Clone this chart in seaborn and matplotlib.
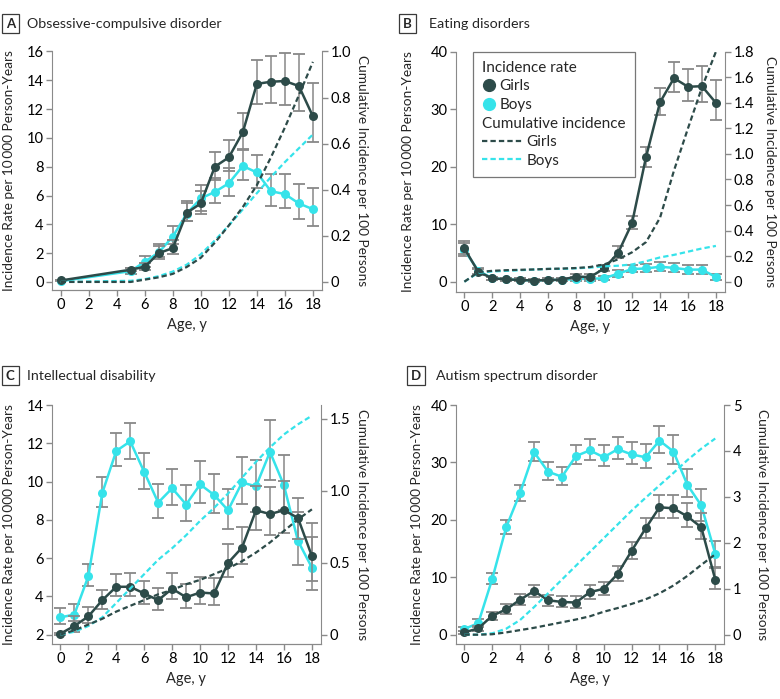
import matplotlib
matplotlib.use("Agg")
import matplotlib.pyplot as plt
from matplotlib.lines import Line2D
import seaborn as sns
import numpy as np

# ---- A: obsessive-compulsive disorder ----
ocd_ages = [0, 5, 6, 7, 8, 9, 10, 11, 12, 13, 14, 15, 16, 17, 18]
ocd_girls = [0.1, 0.85, 1.05, 2.0, 2.35, 4.8, 5.45, 8.0, 8.65, 10.4, 13.75, 13.9, 13.95, 13.6, 11.5]
ocd_girls_lo = [0.1, 0.75, 0.85, 1.7, 1.95, 4.2, 4.75, 7.1, 7.7, 9.15, 12.35, 12.4, 12.3, 11.9, 9.7]
ocd_girls_hi = [0.1, 0.95, 1.3, 2.5, 2.9, 5.6, 6.3, 9.05, 9.85, 11.75, 15.4, 15.7, 15.9, 15.8, 13.8]
ocd_boys = [0.05, 0.75, 1.4, 2.05, 3.15, 4.75, 5.8, 6.25, 6.85, 8.05, 7.6, 6.3, 6.1, 5.45, 5.05]
ocd_boys_lo = [0.05, 0.55, 1.05, 1.6, 2.6, 4.2, 4.95, 5.5, 6.0, 7.1, 6.5, 5.3, 5.1, 4.4, 3.9]
ocd_boys_hi = [0.1, 1.0, 1.8, 2.65, 3.9, 5.5, 6.7, 7.2, 7.9, 9.2, 8.8, 7.5, 7.5, 6.8, 6.5]
ocd_girls_cum = [0, 0.0, 0.01, 0.02, 0.035, 0.065, 0.105, 0.17, 0.245, 0.325, 0.42, 0.54, 0.67, 0.81, 0.955]
ocd_boys_cum = [0, 0.005, 0.012, 0.025, 0.045, 0.075, 0.12, 0.18, 0.245, 0.315, 0.385, 0.455, 0.52, 0.58, 0.64]

# ---- B: eating disorders ----
ed_ages = list(range(19))
ed_girls = [5.8, 1.7, 0.6, 0.4, 0.3, 0.2, 0.3, 0.35, 0.9, 0.8, 2.3, 5.0, 10.2, 21.7, 31.2, 35.4, 33.9, 34.0, 31.1]
ed_girls_lo = [4.8, 1.2, 0.3, 0.1, 0.1, 0.0, 0.1, 0.1, 0.5, 0.4, 1.8, 4.2, 9.2, 20.0, 29.0, 33.0, 31.5, 31.2, 28.2]
ed_girls_hi = [6.8, 2.2, 0.9, 0.7, 0.6, 0.5, 0.6, 0.7, 1.4, 1.3, 2.9, 6.2, 11.5, 23.5, 33.7, 38.2, 37.0, 37.5, 35.0]
ed_boys = [5.5, 1.9, 0.6, 0.4, 0.3, 0.2, 0.3, 0.3, 0.5, 0.5, 0.6, 1.4, 2.2, 2.3, 2.6, 2.4, 2.1, 2.1, 0.8]
ed_boys_lo = [4.5, 1.4, 0.3, 0.1, 0.1, 0.0, 0.1, 0.1, 0.2, 0.2, 0.3, 0.9, 1.6, 1.7, 1.9, 1.7, 1.4, 1.4, 0.3]
ed_boys_hi = [7.0, 2.4, 0.9, 0.7, 0.6, 0.5, 0.6, 0.6, 0.8, 0.9, 1.0, 2.0, 2.9, 3.0, 3.4, 3.2, 2.9, 2.9, 1.4]
ed_girls_cum = [0, 0.075, 0.085, 0.09, 0.093, 0.096, 0.1, 0.103, 0.107, 0.115, 0.135, 0.175, 0.23, 0.31, 0.5, 0.87, 1.2, 1.52, 1.8]
ed_boys_cum = [0, 0.07, 0.08, 0.085, 0.09, 0.095, 0.1, 0.1, 0.105, 0.11, 0.12, 0.125, 0.135, 0.16, 0.19, 0.21, 0.235, 0.26, 0.28]

# ---- C: intellectual disability ----
id_ages = list(range(19))
id_girls = [2.05, 2.45, 2.95, 3.8, 4.5, 4.5, 4.15, 3.8, 4.4, 3.95, 4.2, 4.15, 5.75, 6.55, 8.5, 8.3, 8.5, 8.1, 6.1]
id_girls_lo = [2.0, 2.15, 2.6, 3.35, 4.0, 4.0, 3.6, 3.3, 3.85, 3.4, 3.6, 3.55, 5.0, 5.7, 7.45, 7.2, 7.3, 7.0, 4.35]
id_girls_hi = [2.1, 2.95, 3.45, 4.35, 5.15, 5.2, 4.8, 4.45, 5.2, 4.65, 5.0, 4.95, 6.75, 7.65, 9.75, 9.7, 10.05, 9.15, 7.85]
id_boys = [2.9, 3.05, 5.05, 9.4, 11.6, 12.1, 10.5, 8.9, 9.65, 8.8, 9.85, 9.3, 8.5, 9.95, 9.75, 11.55, 9.8, 6.9, 5.5]
id_boys_lo = [2.55, 2.7, 4.55, 8.65, 10.8, 11.2, 9.6, 8.1, 8.8, 7.95, 8.9, 8.35, 7.5, 8.85, 8.4, 10.1, 8.5, 5.65, 4.8]
id_boys_hi = [3.4, 3.6, 5.7, 10.25, 12.55, 13.05, 11.5, 9.85, 10.65, 9.8, 11.05, 10.4, 9.6, 11.3, 11.1, 13.2, 11.4, 8.4, 7.1]
id_girls_cum = [0, 0.03, 0.07, 0.11, 0.16, 0.2, 0.24, 0.28, 0.31, 0.35, 0.38, 0.42, 0.46, 0.51, 0.57, 0.64, 0.72, 0.8, 0.87]
id_boys_cum = [0, 0.02, 0.06, 0.12, 0.22, 0.32, 0.42, 0.52, 0.6, 0.69, 0.79, 0.88, 0.98, 1.09, 1.2, 1.3, 1.39, 1.46, 1.52]

# ---- D: autism spectrum disorder ----
asd_ages = list(range(19))
asd_girls = [0.4, 1.1, 3.3, 4.4, 6.1, 7.6, 6.0, 5.7, 5.6, 7.4, 8.0, 10.6, 14.6, 18.5, 22.2, 22.0, 20.6, 18.7, 9.6]
asd_girls_lo = [0.2, 0.6, 2.6, 3.6, 5.2, 6.6, 5.0, 4.8, 4.6, 6.3, 6.9, 9.4, 13.2, 16.8, 20.4, 20.3, 18.8, 16.6, 8.0]
asd_girls_hi = [0.7, 1.6, 4.0, 5.3, 7.1, 8.6, 7.0, 6.7, 6.7, 8.6, 9.2, 11.9, 16.1, 20.3, 24.3, 24.4, 23.0, 21.2, 11.6]
asd_boys = [1.0, 2.0, 9.7, 18.7, 24.7, 31.8, 28.4, 27.5, 31.1, 32.1, 30.9, 32.3, 31.4, 30.9, 33.8, 31.9, 26.1, 22.5, 14.1]
asd_boys_lo = [0.6, 1.3, 8.8, 17.5, 23.3, 30.2, 27.0, 26.0, 29.8, 30.5, 29.4, 30.6, 29.8, 29.0, 31.7, 29.8, 24.0, 19.8, 11.8]
asd_boys_hi = [1.4, 2.8, 10.7, 20.0, 26.1, 33.5, 30.0, 29.2, 33.0, 34.0, 33.0, 34.5, 33.6, 33.2, 36.4, 34.8, 28.9, 25.3, 16.4]
asd_girls_cum = [0, 0.0, 0.01, 0.05, 0.1, 0.15, 0.21, 0.27, 0.33, 0.4, 0.5, 0.58, 0.67, 0.77, 0.9, 1.07, 1.28, 1.52, 1.75]
asd_boys_cum = [0, 0.0, 0.03, 0.13, 0.32, 0.6, 0.9, 1.2, 1.5, 1.8, 2.1, 2.4, 2.7, 2.98, 3.25, 3.52, 3.8, 4.05, 4.27]

GIRL = "#2d4b49"
BOY = "#36e3ea"
BAR = "#888888"
AXC = "#8a8a8a"
DASH = (0, (2.4, 1.4))

sns.set_style("ticks")
plt.rcParams['font.family'] = ['Lato', 'DejaVu Sans']
plt.rcParams['font.size'] = 10
plt.rcParams['axes.edgecolor'] = AXC
plt.rcParams['xtick.color'] = AXC
plt.rcParams['ytick.color'] = AXC
plt.rcParams['xtick.labelcolor'] = 'black'
plt.rcParams['ytick.labelcolor'] = 'black'
plt.rcParams['xtick.labelsize'] = 10.5
plt.rcParams['ytick.labelsize'] = 10.5

fig = plt.figure(figsize=(7.8, 6.99), dpi=100)

LEFT_LABEL = "Incidence Rate per 10\u2009000 Person-Years"
RIGHT_LABEL = "Cumulative Incidence per 100 Persons"
LABEL_FS = 9.8


def panel(rect, ages, g, g_lo, g_hi, b, b_lo, b_hi, g_cum, b_cum,
          ylim, yticks, base, scale, rticks, rlabels, lab_x):
    ax = fig.add_axes(rect)
    ages = np.array(ages)
    for vals, lo, hi, col, z in [(b, b_lo, b_hi, BOY, 3), (g, g_lo, g_hi, GIRL, 4)]:
        vals, lo, hi = np.array(vals), np.array(lo), np.array(hi)
        eb = ax.errorbar(ages, vals, yerr=[vals - lo, hi - vals], fmt='none',
                         ecolor=BAR, elinewidth=1.1, capsize=4, capthick=1.3, zorder=z)
        for c in eb[1]:
            c.set_color(col)
        sns.lineplot(x=ages, y=vals, ax=ax, color=col, marker='o', markersize=6.5,
                     markeredgewidth=0, linewidth=1.8, zorder=z + 0.5)
    ax.set_xlim(-0.62, 18.65)
    ax.set_ylim(*ylim)
    ax.set_xticks(range(0, 19, 2))
    ax.set_yticks(yticks)
    ax.set_xlabel("Age, y", fontsize=10.5)
    ax.set_ylabel(LEFT_LABEL, fontsize=LABEL_FS, va='center')
    ax.yaxis.set_label_coords(lab_x[0], 0.5)
    ax.spines['top'].set_visible(False)
    ax.spines['right'].set_visible(False)

    ax2 = ax.twinx()
    sns.lineplot(x=ages, y=b_cum, ax=ax2, color=BOY, linestyle=DASH, linewidth=1.6)
    sns.lineplot(x=ages, y=g_cum, ax=ax2, color=GIRL, linestyle=DASH, linewidth=1.6)
    ax2.set_ylim((ylim[0] - base) * scale, (ylim[1] - base) * scale)
    ax2.set_yticks(rticks)
    ax2.set_yticklabels(rlabels)
    ax2.set_ylabel(RIGHT_LABEL, rotation=-90, fontsize=LABEL_FS, va='center')
    ax2.yaxis.set_label_coords(lab_x[1], 0.5)
    ax2.spines['top'].set_visible(False)
    ax2.spines['left'].set_visible(False)
    for a in (ax, ax2):
        a.tick_params(length=4, width=1, pad=2)
    return ax, ax2


def title(x, y, letter, text, gap):
    fig.text(x, y, letter, fontsize=9.5, weight='bold', va='center', ha='left',
             bbox=dict(boxstyle='square,pad=0.3', fc='white', ec='#3a3a3a', lw=0.9))
    fig.text(x + gap, y, text, fontsize=10.3, va='center', ha='left')


W, H = 780, 699


def rect(x0, x1, ytop, ybot):
    return [x0 / W, 1 - ybot / H, (x1 - x0) / W, (ybot - ytop) / H]


panel(rect(52, 322, 51.5, 290), ocd_ages, ocd_girls, ocd_girls_lo, ocd_girls_hi,
      ocd_boys, ocd_boys_lo, ocd_boys_hi, ocd_girls_cum, ocd_boys_cum,
      (-0.56, 16), range(0, 17, 2), 0, 1 / 16,
      [0, 0.2, 0.4, 0.6, 0.8, 1.0], ["0", "0.2", "0.4", "0.6", "0.8", "1.0"], (-0.158, 1.15))

axb, axb2 = panel(rect(455.7, 725, 51.7, 291.7), ed_ages, ed_girls, ed_girls_lo, ed_girls_hi,
                  ed_boys, ed_boys_lo, ed_boys_hi, ed_girls_cum, ed_boys_cum,
                  (-1.74, 40), range(0, 41, 10), 0, 1.8 / 40,
                  np.arange(0, 1.81, 0.2), ["0"] + [f"{v:.1f}" for v in np.arange(0.2, 1.81, 0.2)],
                  (-0.177, 1.167))

panel(rect(51.7, 321, 405, 644), id_ages, id_girls, id_girls_lo, id_girls_hi,
      id_boys, id_boys_lo, id_boys_hi, id_girls_cum, id_boys_cum,
      (1.51, 14), range(2, 15, 2), 2, 1.5 / 11.29,
      [0, 0.5, 1.0, 1.5], ["0", "0.5", "1.0", "1.5"], (-0.16, 1.152))

panel(rect(455.7, 724.3, 405, 644), asd_ages, asd_girls, asd_girls_lo, asd_girls_hi,
      asd_boys, asd_boys_lo, asd_boys_hi, asd_girls_cum, asd_boys_cum,
      (-1.62, 40), range(0, 41, 10), 0, 5 / 40,
      [0, 1, 2, 3, 4, 5], ["0", "1", "2", "3", "4", "5"], (-0.144, 1.14))

title(6 / W, 1 - 23.5 / H, "A", "Obsessive-compulsive disorder", 21 / W)
title(403 / W, 1 - 23.5 / H, "B", "Eating disorders", 26 / W)
title(6 / W, 1 - 375.5 / H, "C", "Intellectual disability", 21 / W)
title(411 / W, 1 - 375.5 / H, "D", "Autism spectrum disorder", 25 / W)

# legend for panel B
blank = Line2D([], [], linestyle='none')
handles = [blank,
           Line2D([], [], color=GIRL, marker='o', linestyle='none', markersize=8.5),
           Line2D([], [], color=BOY, marker='o', linestyle='none', markersize=8.5),
           blank,
           Line2D([], [], color=GIRL, linestyle=DASH, linewidth=1.6),
           Line2D([], [], color=BOY, linestyle=DASH, linewidth=1.6)]
labels = ["Incidence rate", "Girls", "Boys", "Cumulative incidence", "Girls", "Boys"]
fs = 11
leg = axb2.legend(handles, labels, loc='upper left', bbox_to_anchor=(0.064, 1.0),
                  borderaxespad=0, handlelength=2.6, handletextpad=0.3, labelspacing=0.3,
                  borderpad=0.6, fontsize=fs, frameon=True, fancybox=False)
leg.get_frame().set_edgecolor('#555555')
leg.get_frame().set_linewidth(0.9)
rows = leg._legend_handle_box.get_children()[0].get_children()
for i in (0, 3):
    rows[i].get_children()[0].width = 0
    rows[i].sep = 0
for i in (1, 2):
    rows[i].get_children()[0].width = 0.85 * fs
    leg.legend_handles[i].set_xdata([0.42 * fs] * 3)

fig.savefig("out.png", dpi=100)
